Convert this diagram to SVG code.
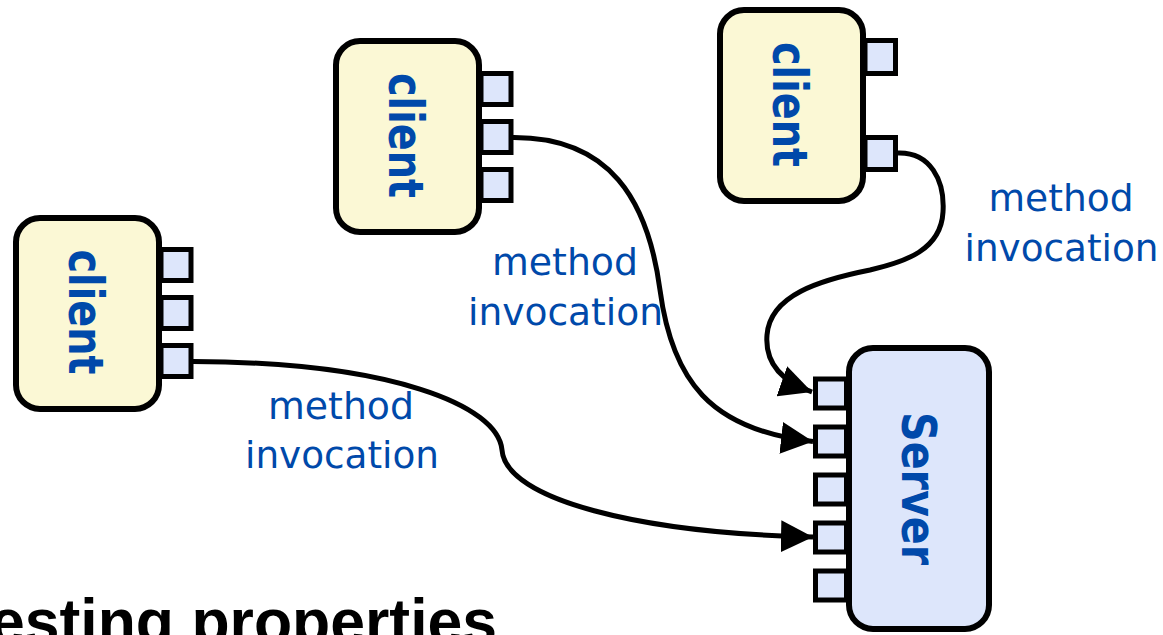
<svg xmlns="http://www.w3.org/2000/svg" width="1163" height="635" viewBox="0 0 1163 635">
  <style>
    .client { fill: #FBF8D5; stroke: #000; stroke-width: 6; }
    .server { fill: #DDE6FB; stroke: #000; stroke-width: 6; }
    .port { fill: #DDE6FB; stroke: #000; stroke-width: 5; }
    .name { font-family: "DejaVu Sans", sans-serif; font-weight: bold; font-size: 48px; fill: #0049AA; text-anchor: middle; }
    .lbl { font-family: "DejaVu Sans", sans-serif; font-size: 38px; fill: #0049AA; text-anchor: middle; }
    .conn { fill: none; stroke: #000; stroke-width: 5; }
    .title { font-family: "Liberation Sans", Arial, sans-serif; font-weight: bold; font-size: 62.5px; fill: #000; }
  </style>
  <defs>
    <marker id="arrow" viewBox="0 0 32 32" refX="32" refY="16" markerWidth="32" markerHeight="32" markerUnits="userSpaceOnUse" orient="auto">
      <path d="M0,0 L32,16 L0,32 z" fill="#000"/>
    </marker>
  </defs>

  <g id="client-left">
    <rect class="port" x="161" y="249.5" width="30" height="31"/>
    <rect class="port" x="161" y="297.5" width="30" height="31"/>
    <rect class="port" x="161" y="345.5" width="30" height="31"/>
    <rect class="client" x="16" y="218" width="143" height="191" rx="24"/>
    <text class="name" transform="translate(69,312) rotate(90)" textLength="125" lengthAdjust="spacingAndGlyphs">client</text>
  </g>

  <g id="client-middle">
    <rect class="port" x="481" y="73.5" width="30" height="31"/>
    <rect class="port" x="481" y="121.5" width="30" height="31"/>
    <rect class="port" x="481" y="169.5" width="30" height="31"/>
    <rect class="client" x="336" y="41" width="143" height="191" rx="24"/>
    <text class="name" transform="translate(389,135.5) rotate(90)" textLength="125" lengthAdjust="spacingAndGlyphs">client</text>
  </g>

  <g id="client-right">
    <rect class="port" x="865" y="40.5" width="30.5" height="33"/>
    <rect class="port" x="865" y="137.5" width="30.5" height="32"/>
    <rect class="client" x="720" y="10" width="143" height="191" rx="24"/>
    <text class="name" transform="translate(773,104.5) rotate(90)" textLength="125" lengthAdjust="spacingAndGlyphs">client</text>
  </g>

  <g id="server">
    <rect class="port" x="815.5" y="379" width="31" height="29"/>
    <rect class="port" x="815.5" y="427" width="31" height="29"/>
    <rect class="port" x="815.5" y="475" width="31" height="29"/>
    <rect class="port" x="815.5" y="523" width="31" height="29"/>
    <rect class="port" x="815.5" y="571" width="31" height="29"/>
    <rect class="server" x="849" y="348" width="140" height="281" rx="24"/>
    <text class="name" transform="translate(902,488.5) rotate(90)" textLength="153" lengthAdjust="spacingAndGlyphs">Server</text>
  </g>

  <g id="connectors">
    <path class="conn" marker-end="url(#arrow)" d="M193,361.5 C390,362 498,405 502,450 C506,500 640,533 813,537"/>
    <path class="conn" marker-end="url(#arrow)" d="M513,137.5 C610,137 648,200 660,290 C672,380 710,430 813,441.5"/>
    <path class="conn" marker-end="url(#arrow)" d="M898,153 C930,152 945,180 943,212 C941,250 905,262 870,270 C820,280 770,295 767,335 C765,360 778,380 812,392"/>
  </g>

  <g id="labels">
    <text class="lbl" x="341" y="419" textLength="146" lengthAdjust="spacingAndGlyphs">method</text>
    <text class="lbl" x="342" y="468" textLength="194" lengthAdjust="spacingAndGlyphs">invocation</text>
    <text class="lbl" x="565" y="275" textLength="146" lengthAdjust="spacingAndGlyphs">method</text>
    <text class="lbl" x="565.5" y="325" textLength="195" lengthAdjust="spacingAndGlyphs">invocation</text>
    <text class="lbl" x="1061" y="211" textLength="145" lengthAdjust="spacingAndGlyphs">method</text>
    <text class="lbl" x="1061.5" y="261" textLength="194" lengthAdjust="spacingAndGlyphs">invocation</text>
  </g>

  <text class="title" x="-10" y="643">esting properties</text>
</svg>
